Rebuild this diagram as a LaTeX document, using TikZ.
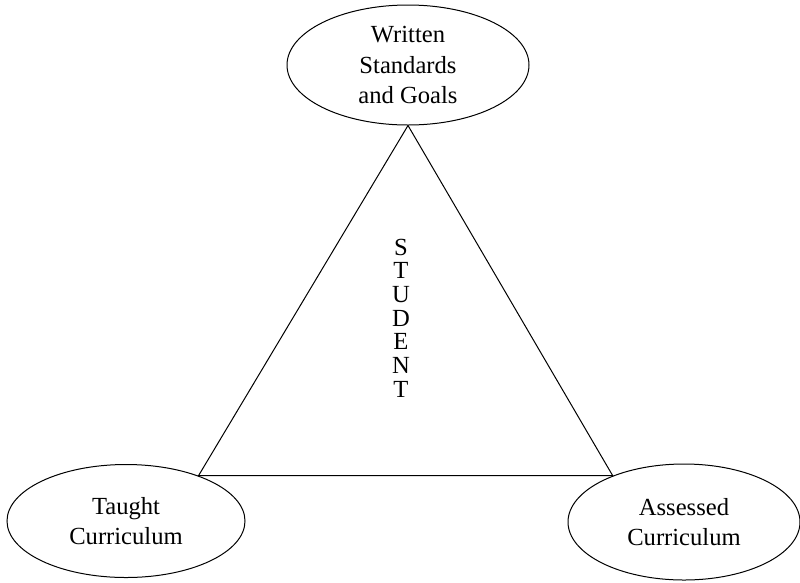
\documentclass[tikz,border=0pt]{standalone}
\usepackage{fontspec}
\setmainfont{Liberation Serif}
\usetikzlibrary{shapes.geometric}
\begin{document}
\begin{tikzpicture}[x=1pt,y=-1pt,
  oval/.style={draw,ellipse,line width=1pt,inner sep=0pt,align=center,
    font=\fontsize{24.6}{30.5}\selectfont},
  edge/.style={draw,line width=1pt}]
\useasboundingbox (0,0) rectangle (800,582);
\node[oval,minimum width=242pt,minimum height=120pt] (top) at (408,65)
  {Written\\Standards\\and Goals};
\node[oval,minimum width=238pt,minimum height=113pt] (left) at (126,521)
  {Taught\\Curriculum};
\node[oval,minimum width=232pt,minimum height=116pt] (right) at (684,522)
  {Assessed\\Curriculum};
\node[align=center,inner sep=0pt,font=\fontsize{24.6}{23.7}\selectfont] (stu) at (401,318)
  {S\\T\\U\\D\\E\\N\\T};
\draw[edge] (top.south) -- (left.32.6) -- (right.147.6) -- cycle;
\end{tikzpicture}
\end{document}
